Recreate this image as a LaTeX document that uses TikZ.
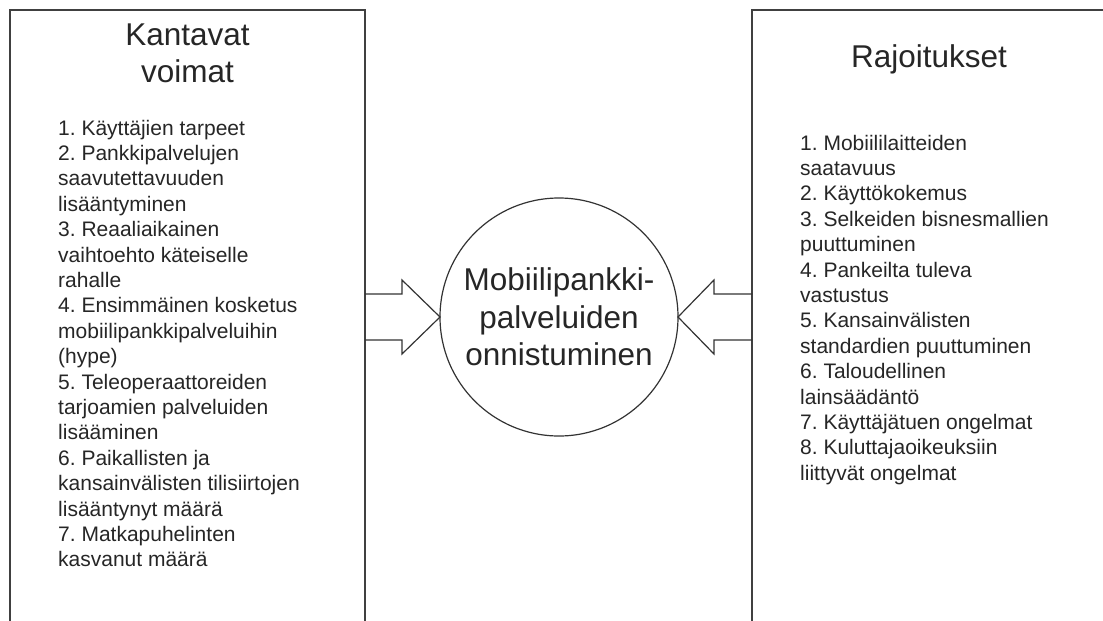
\documentclass[tikz,border=0pt]{standalone}
\usepackage{fontspec}
\setmainfont{Liberation Sans}
\usetikzlibrary{calc}
\frenchspacing
\begin{document}
\frenchspacing
\begin{tikzpicture}[x=1pt,y=-1pt,
  frame/.style={draw=black!75, line width=1.4pt, inner sep=0pt, outer sep=0pt, rectangle},
  listtext/.style={inner sep=0pt, anchor=base west, text=black!85},
  titletext/.style={inner sep=0pt, anchor=base, text=black!85},
  blockarrow/.style={draw=black!80, line width=1.2pt, line join=miter},
  hub/.style={draw=black!80, line width=1.2pt, circle, minimum size=238pt, inner sep=0pt, outer sep=0pt, align=center, text=black!85, font=\fontsize{31.5pt}{37.5pt}\selectfont}
]
\useasboundingbox (0,0) rectangle (1103,621);
\clip (0,0) rectangle (1103,621);
\fill[white] (0,0) rectangle (1103,621);

\node[frame, minimum width=355pt, minimum height=640pt] (L) at (187.5,330) {};
\node[frame, minimum width=380pt, minimum height=640pt] (R) at (942,330) {};
\node[hub] (C) at (559,317) {Mobiilipankki-\\palveluiden\\onnistuminen};

\coordinate (ltail) at (L.east |- C.west);
\coordinate (rtail) at (R.west |- C.east);
\draw[blockarrow] ($(ltail)+(0,-23)$) -- ($(ltail)+(37,-23)$) -- ($(ltail)+(37,-37)$) -- (C.west) -- ($(ltail)+(37,37)$) -- ($(ltail)+(37,23)$) -- ($(ltail)+(0,23)$);
\draw[blockarrow] ($(rtail)+(0,-23)$) -- ($(rtail)+(-38,-23)$) -- ($(rtail)+(-38,-37)$) -- (C.east) -- ($(rtail)+(-38,37)$) -- ($(rtail)+(-38,23)$) -- ($(rtail)+(0,23)$);

\node[titletext] (Lt) at (187.5,45) {\parbox[t]{300pt}{\centering\fontsize{31.5pt}{37pt}\selectfont Kantavat\\voimat}};
\node[titletext] (Rt) at (929,67) {\parbox[t]{300pt}{\centering\fontsize{31.5pt}{37pt}\selectfont Rajoitukset}};

\node[listtext] (Ll) at (58,135) {\parbox[t]{300pt}{\raggedright\frenchspacing\fontsize{21pt}{25.4pt}\selectfont
1. Käyttäjien tarpeet\\
2. Pankkipalvelujen\\
saavutettavuuden\\
lisääntyminen\\
3. Reaaliaikainen\\
vaihtoehto käteiselle\\
rahalle\\
4. Ensimmäinen kosketus\\
mobiilipankkipalveluihin\\
(hype)\\
5. Teleoperaattoreiden\\
tarjoamien palveluiden\\
lisääminen\\
6. Paikallisten ja\\
kansainvälisten tilisiirtojen\\
lisääntynyt määrä\\
7. Matkapuhelinten\\
kasvanut määrä}};

\node[listtext] (Rl) at (800,150) {\parbox[t]{300pt}{\raggedright\frenchspacing\fontsize{21pt}{25.4pt}\selectfont
1. Mobiililaitteiden\\
saatavuus\\
2. Käyttökokemus\\
3. Selkeiden bisnesmallien\\
puuttuminen\\
4. Pankeilta tuleva\\
vastustus\\
5. Kansainvälisten\\
standardien puuttuminen\\
6. Taloudellinen\\
lainsäädäntö\\
7. Käyttäjätuen ongelmat\\
8. Kuluttajaoikeuksiin\\
liittyvät ongelmat}};
\end{tikzpicture}
\end{document}
